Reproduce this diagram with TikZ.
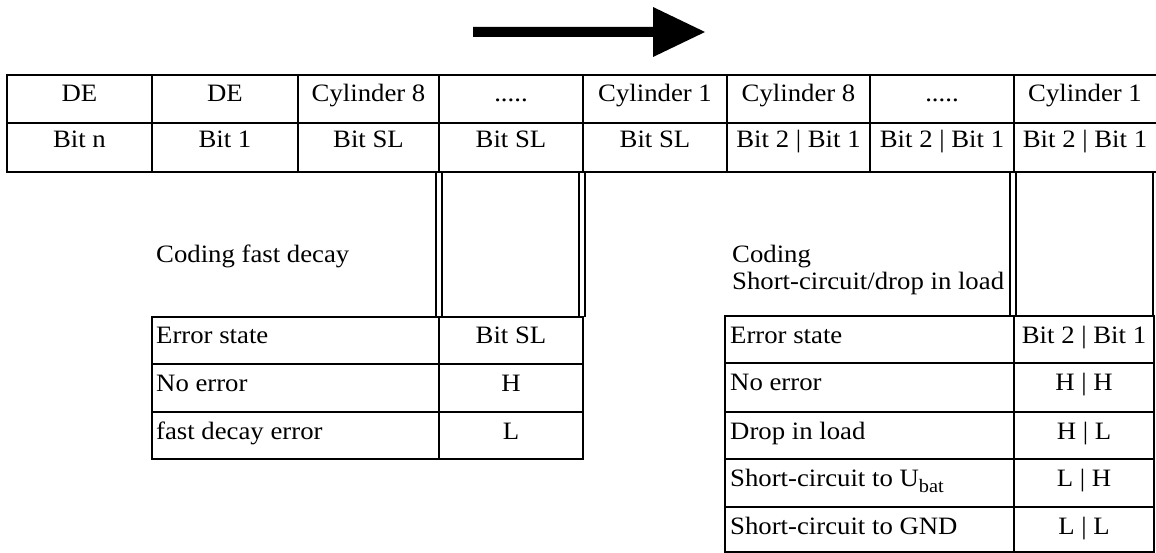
\documentclass[tikz,border=0pt]{standalone}
\usepackage{fontspec}
\setmainfont{Liberation Serif}[FakeStretch=1.07]
\newcommand\fivedots{.....}
\newcommand\lowsub[1]{\raisebox{-6pt}{\fontsize{19}{19}\selectfont #1}}
\begin{document}
\begin{tikzpicture}[x=1pt,y=-1pt,
  rule/.style={line width=2pt,line cap=rect},
  txt/.style={anchor=base,inner sep=0pt,font=\fontsize{25}{27}\selectfont},
  ltxt/.style={txt,anchor=base west}]
\useasboundingbox (0,0) rectangle (1156,553);

% direction arrow
\fill (473,27) -- (653,27) -- (653,7) -- (705,32) -- (653,57) -- (653,37) -- (473,37) -- cycle;

% bit stream table
\foreach \y in {75,123,172} \draw[rule] (7,\y) -- (1156,\y);
\foreach \x in {7,152,298,439,583,727,870,1014} \draw[rule] (\x,75) -- (\x,172);
\foreach \cx/\lab [count=\i] in {79.5/DE,225/DE,368.5/Cylinder 8,511/\fivedots,655/Cylinder 1,798.5/Cylinder 8,942/\fivedots,1085/Cylinder 1}
  \node[txt] (h\i) at (\cx,102) {\lab};
\foreach \cx/\lab [count=\i] in {79.5/Bit n,225/Bit 1,368.5/Bit SL,511/Bit SL,655/Bit SL,798.5/Bit 2 | Bit 1,942/Bit 2 | Bit 1,1085/Bit 2 | Bit 1}
  \node[txt] (b\i) at (\cx,148) {\lab};

% double-ruled frames below the table
\foreach \x in {436,442,579,585} \draw[rule,line cap=butt] (\x,172) -- (\x,317);
\foreach \x in {1010,1016,1153} \draw[rule,line cap=butt] (\x,172) -- (\x,316);

% fast decay coding
\node[ltxt] (cfd) at (156,263) {Coding fast decay};
\foreach \y in {317,364,412,459} \draw[rule] (152,\y) -- (583,\y);
\foreach \x in {152,439,583} \draw[rule] (\x,317) -- (\x,459);
\foreach \y/\a/\b [count=\i] in {343/Error state/Bit SL,391/No error/H,439/fast decay error/L}{
  \node[ltxt] (fa\i) at (156,\y) {\a};
  \node[txt] (fb\i) at (511,\y) {\b};
}

% short-circuit / drop in load coding
\node[ltxt] (cs1) at (732,263) {Coding};
\node[ltxt] (cs2) at (732,289) {Short-circuit/drop in load};
\foreach \y in {316,363,412,459,507,552} \draw[rule] (725,\y) -- (1154,\y);
\foreach \x in {725,1014,1154} \draw[rule] (\x,316) -- (\x,552);
\foreach \y/\a/\b [count=\i] in {343/Error state/Bit 2 | Bit 1,390/No error/H | H,439/Drop in load/H | L,486/Short-circuit to U\lowsub{bat}/L | H,534/Short-circuit to GND/L | L}{
  \node[ltxt] (sa\i) at (730,\y) {\a};
  \node[txt] (sb\i) at (1084,\y) {\b};
}
\end{tikzpicture}
\end{document}
